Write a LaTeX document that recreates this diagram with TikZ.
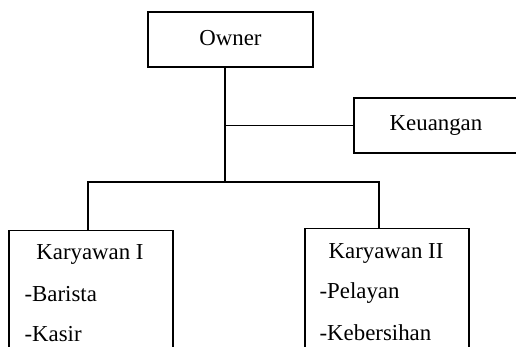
\documentclass[tikz,border=0pt]{standalone}
\usepackage{fontspec}
\setmainfont{Liberation Serif}
\tikzset{
  kotak/.style={draw,line width=0.7pt,minimum width=3.28cm,minimum height=1.1cm,inner sep=0pt},
  isi/.style={inner sep=0pt,font=\fontsize{13}{15}\selectfont},
}
\begin{document}
\begin{tikzpicture}[x=0.02cm,y=-0.02cm,line width=0.7pt]
\useasboundingbox (0,0) rectangle (516,347);
\clip (0,0) rectangle (516,347);
% kotak-kotak
\node[kotak,minimum width=3.3cm] (owner) at (230.5,39.5) {};
\node[isi] (towner) at (230.5,38) {Owner};
\node[kotak] (keu) at (436,125.5) {};
\node[isi] (tkeu) at (436,125) {Keuangan};
\node[kotak,minimum height=3cm,anchor=north] (kar1) at (91,230) {};
\node[kotak,minimum height=3cm,anchor=north] (kar2) at (387,228) {};
\node[isi] (tkar1) at (90,254) {Karyawan I};
\node[isi,anchor=west] (barista) at (24,294) {-Barista};
\node[isi,anchor=west] (kasir) at (24,334) {-Kasir};
\node[isi] (tkar2) at (386,253) {Karyawan II};
\node[isi,anchor=west] (pelayan) at (319,293) {-Pelayan};
\node[isi,anchor=west] (bersih) at (319,333) {-Kebersihan};
% garis
\coordinate (trunk) at (225,182);
\coordinate (busL) at (88,182);
\coordinate (busR) at (379,182);
\draw (owner.south -| trunk)--(trunk);
\draw (trunk |- keu)--(keu.west);
\draw (kar1.north -| busL)--(busL)--(busR)--(kar2.north -| busR);
\end{tikzpicture}
\end{document}
